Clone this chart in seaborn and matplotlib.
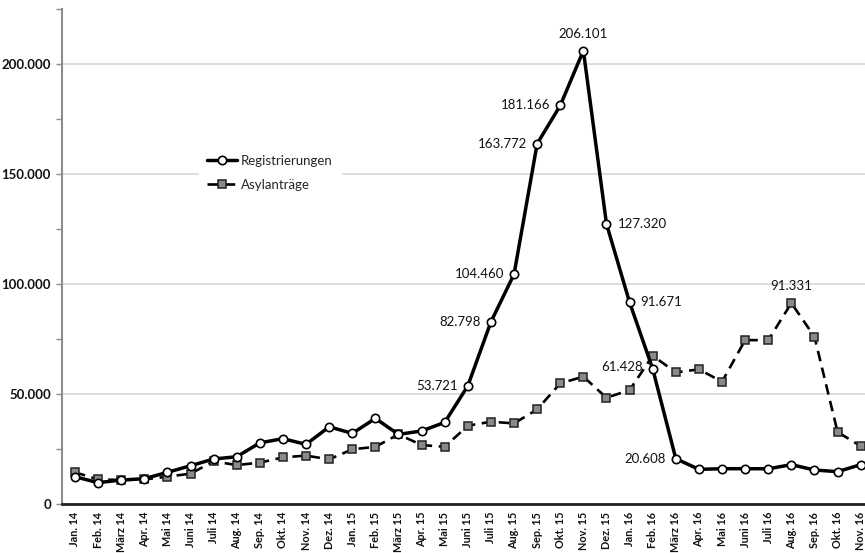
import matplotlib
matplotlib.use('Agg')
import matplotlib.pyplot as plt
import seaborn as sns

# Monate Jan. 14 - Nov. 16
months = ['Jan. 14', 'Feb. 14', 'März 14', 'Apr. 14', 'Mai 14', 'Juni 14', 'Juli 14', 'Aug. 14',
          'Sep. 14', 'Okt. 14', 'Nov. 14', 'Dez. 14', 'Jan. 15', 'Feb. 15', 'März 15', 'Apr. 15',
          'Mai 15', 'Juni 15', 'Juli 15', 'Aug. 15', 'Sep. 15', 'Okt. 15', 'Nov. 15', 'Dez. 15',
          'Jan. 16', 'Feb. 16', 'März 16', 'Apr. 16', 'Mai 16', 'Juni 16', 'Juli 16', 'Aug. 16',
          'Sep. 16', 'Okt. 16', 'Nov. 16']

registrierungen = [12400, 9700, 10900, 11500, 14400, 17400, 20450, 21500,
                   27800, 29700, 27100, 35100, 32100, 38900, 31650, 33200,
                   37100, 53721, 82798, 104460, 163772, 181166, 206101, 127320,
                   91671, 61428, 20608, 15750, 16050, 16050, 16000, 17900,
                   15450, 14700, 17900]

asylantraege = [14400, 11200, 10900, 11200, 12400, 13800, 19400, 17700,
                18800, 21200, 22000, 20300, 24850, 26000, 31650, 26800,
                26000, 35600, 37400, 36650, 43000, 54850, 57900, 48300,
                51800, 67400, 59850, 61200, 55600, 74500, 74500, 91331,
                76050, 32700, 26350]

y_ticks = [0, 50000, 100000, 150000, 200000]
y_labels = ['0', '50.000', '100.000', '150.000', '200.000']

# Beschriftete Punkte
reg_labels = {17: '53.721', 18: '82.798', 19: '104.460', 20: '163.772', 21: '181.166',
              22: '206.101', 23: '127.320', 24: '91.671', 25: '61.428', 26: '20.608'}
asyl_labels = {31: '91.331'}

sns.set_style('white')
plt.rcParams['font.family'] = ['Lato', 'DejaVu Sans']

fig = plt.figure(figsize=(8.65, 5.53), dpi=100)
ax = fig.add_axes([0.0717, 0.0886, 0.93, 0.895])

x = list(range(len(months)))

sns.lineplot(x=x, y=registrierungen, ax=ax, color='black', lw=2.5, sort=False,
             marker='o', markersize=6, markerfacecolor='white', markeredgecolor='black',
             markeredgewidth=1.2, label='Registrierungen', zorder=4)
sns.lineplot(x=x, y=asylantraege, ax=ax, color='black', lw=1.9, sort=False,
             linestyle=(0, (4, 2.5)), marker='s', markersize=5.5, markerfacecolor='#8a8a8a',
             markeredgecolor='#222222', markeredgewidth=1.1, label='Asylanträge', zorder=3)

# Gitternetz und Achsen
ax.set_ylim(0, 225000)
ax.set_xlim(-0.56, 34.25)
ax.set_yticks(y_ticks)
ax.set_yticklabels(y_labels)
ax.set_yticks([25000, 75000, 125000, 175000, 225000], minor=True)
ax.yaxis.grid(True, which='major', color='#d4d4d4', lw=1.1)
ax.set_axisbelow(True)
ax.set_xticks(x)
ax.set_xticklabels(months, rotation=90)

for s in ['top', 'right']:
    ax.spines[s].set_visible(False)
ax.spines['left'].set_color('#8c8c8c')
ax.spines['left'].set_linewidth(1.5)
ax.spines['bottom'].set_color('#222222')
ax.spines['bottom'].set_linewidth(2)

ax.tick_params(axis='y', which='both', left=True, length=4, width=1, color='#8c8c8c',
               labelsize=9.5, pad=4, labelcolor='#111111')
ax.tick_params(axis='x', bottom=False, labelsize=7.8, pad=2, labelcolor='#111111')
for t in ax.get_yticklabels() + ax.get_xticklabels():
    t.set_fontweight('bold')

# Datenbeschriftungen
offsets = {17: (-7, 0, 'right', 'center'), 18: (-7, 0, 'right', 'center'),
           19: (-7, 0, 'right', 'center'), 20: (-7, 0, 'right', 'center'),
           21: (-7, 0, 'right', 'center'), 22: (0, 8, 'center', 'bottom'),
           23: (8, 0, 'left', 'center'), 24: (8, 0, 'left', 'center'),
           25: (-7, 1, 'right', 'center'), 26: (-7, 0, 'right', 'center')}
for i, txt in reg_labels.items():
    dx, dy, ha, va = offsets[i]
    ax.annotate(txt, (i, registrierungen[i]), xytext=(dx, dy), textcoords='offset points',
                ha=ha, va=va, fontsize=9.5, color='#111111')
for i, txt in asyl_labels.items():
    ax.annotate(txt, (i, asylantraege[i]), xytext=(0, 8), textcoords='offset points',
                ha='center', va='bottom', fontsize=9.5, color='#111111')

leg = ax.legend(loc='upper left', bbox_to_anchor=(0.162, 0.735), frameon=True,
                facecolor='white', edgecolor='white', framealpha=1, fontsize=9.5,
                handlelength=2.3, handletextpad=0.3, labelspacing=0.9, borderpad=0.6)
leg.set_zorder(5)

fig.savefig('out.png', dpi=100)
